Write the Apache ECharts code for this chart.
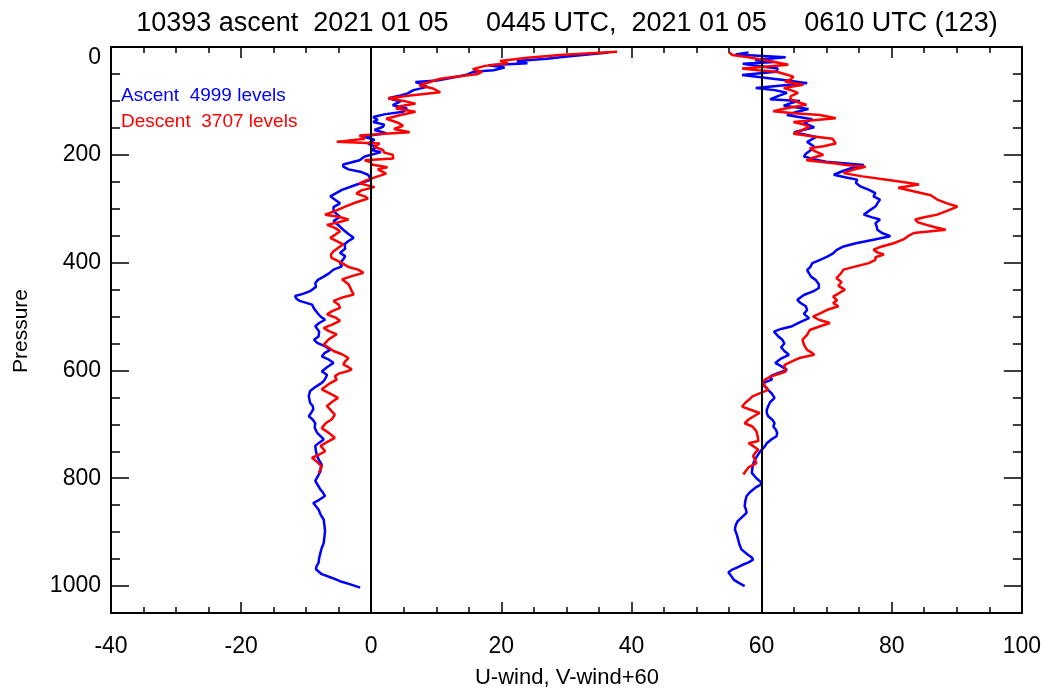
<!DOCTYPE html>
<html>
<head>
<meta charset="utf-8">
<title>10393 ascent</title>
<script src="https://cdn.jsdelivr.net/npm/echarts/dist/echarts.min.js"></script>
<style>
    html, body { margin: 0; padding: 0; background: #fff; }
    #chart { width: 1044px; height: 694px; }
</style>
</head>
<body>
<!--图表容器-->
<div id="chart"></div>
<script>
// 数据: [气压 hPa, 风速]
let ascentU = [
    [10, 36.5], [17, 30.5], [22, 27], [26, 22.4], [30, 24], [34, 18], [38, 20.5], [43, 18.8], [46, 15.7], [52, 14.5],
    [58, 12], [62, 10.1], [65, 6.8], [70, 8], [74, 8.6], [80, 6.5], [86, 5.6], [90, 4.5], [95, 2.6], [101, 4.5],
    [108, 3.3], [114, 5.5], [120, 4.9], [125, 2], [130, 0.3], [135, 1], [139, 0.3], [144, 2], [148, 1.8], [154, 0.5],
    [160, 2.3], [166, -1.3], [172, 0.5], [179, -0.5], [186, 0.8], [191, 0], [195, 1.5], [203, -1], [210, -1.8], [218, -4.3],
    [222, -4.3], [227, -3.5], [232, -1.5], [237, -0.5], [246, 0], [255, -2.2], [265, -4.5], [277, -6.3], [284, -5.5], [290, -4.8],
    [297, -5.8], [305, -5.8], [315, -4.8], [323, -5.8], [331, -5], [339, -4.3], [347, -3.5], [354, -2.7], [360, -3.5], [366, -4.1],
    [374, -4], [382, -4.8], [388, -4], [394, -4.3], [401, -4.8], [407, -4.5], [413, -5.8], [420, -6.5], [426, -7.3], [432, -8.2],
    [438, -8.6], [445, -8.5], [453, -9.4], [458, -10.5], [462, -11.7], [467, -11.5], [471, -11], [478, -9.1], [485, -8.8], [493, -8.3],
    [500, -7.8], [506, -7.1], [512, -8], [518, -8.6], [528, -8], [537, -8.1], [543, -8.8], [549, -8.3], [556, -7], [562, -6.3],
    [568, -7.2], [574, -7.6], [580, -6.5], [586, -5.8], [594, -6.8], [602, -7.6], [608, -6.8], [614, -7], [618, -7.2], [623, -7.6],
    [630, -8.5], [638, -9.4], [648, -9.6], [660, -9.4], [666, -9], [672, -8.9], [678, -9.2], [685, -9.6], [691, -9], [698, -8.6],
    [706, -8.7], [716, -8.3], [722, -7.8], [728, -7.3], [734, -8], [740, -8.6], [750, -8.5], [759, -8.3], [767, -8], [775, -7.6],
    [781, -7.8], [787, -7.8], [796, -8.2], [805, -8.6], [813, -8.2], [821, -7.8], [827, -7.4], [833, -7.1], [840, -8], [846, -8.9],
    [852, -8.5], [858, -8.1], [867, -7.8], [877, -7.3], [887, -7.2], [898, -7.1], [909, -7.2], [920, -7.3], [929, -7.6], [938, -7.8],
    [948, -8], [957, -8.1], [963, -8.4], [969, -8.5], [974, -8], [978, -7.6], [985, -6], [991, -4.8], [997, -3.2], [1003, -1.7]
]
let descentU = [
    [9, 37.8], [12, 33], [15, 29], [20, 24], [26, 19.8], [30, 21], [35, 17.5], [41, 15.6], [46, 17], [50, 16.4],
    [55, 13], [59, 10.6], [65, 9], [71, 7.4], [77, 9.5], [84, 10.6], [90, 6], [95, 2.6], [100, 5], [105, 6.8],
    [110, 4.5], [114, 3.8], [120, 6.8], [126, 4.5], [133, 2.3], [140, 4], [146, 4.9], [152, 3.5], [158, 5.9], [161, 2],
    [164, -1.8], [170, -1], [176, -5.3], [179, 1.3], [185, 0.5], [191, 1.8], [196, 2], [200, 3.3], [207, 3.4], [210, -1],
    [214, 0], [218, 0], [223, 2.5], [227, 1], [235, 2.3], [240, 1], [247, -0.7], [253, -1.8], [260, 0.5], [266, -1.5],
    [272, -2.3], [277, -1], [281, -0.5], [289, -2.5], [296, -4], [304, -5.5], [311, -7.1], [315, -5], [320, -3.5], [325, -5],
    [330, -6.8], [336, -5.5], [342, -4.8], [348, -5.5], [354, -6.3], [360, -5.3], [366, -4.3], [372, -5], [379, -5.8], [385, -6.2],
    [391, -6.1], [396, -5.3], [401, -4.5], [408, -3.5], [413, -2], [419, -1.2], [425, -3], [431, -4.5], [440, -3.5], [447, -3.2],
    [453, -3], [459, -2.7], [465, -4.5], [471, -5.8], [478, -5], [484, -4.8], [490, -6], [496, -6.8], [502, -5.5], [508, -4.8],
    [515, -6], [521, -7.3], [527, -6.5], [533, -5.3], [542, -6.5], [552, -7.3], [558, -6.5], [564, -5.8], [570, -4.5], [577, -3.5],
    [583, -4], [589, -4.3], [594, -3.5], [598, -3], [601, -3.5], [606, -5], [611, -5.6], [617, -5.3], [625, -6.5], [635, -7.6],
    [643, -6.3], [651, -5.1], [658, -6], [666, -6.8], [674, -6.2], [682, -5.6], [690, -6], [698, -7], [707, -7.6], [716, -6.5],
    [725, -5.6], [733, -6.8], [740, -7.8], [745, -7.4], [750, -7.1], [756, -8], [762, -9.1], [770, -8.3], [778, -7.6], [784, -7.8],
    [790, -8.1]
]
let ascentV = [
    [10, -2], [14, -4], [19, 3.7], [24, -1], [28, 2], [31, -2.9], [36, 0], [40, 2.5], [46, 2.2], [52, -3],
    [57, 0.5], [62, 4], [67, 7], [71, 3.5], [76, -0.9], [80, 2], [85, 3.9], [91, 2.5], [97, 1.3], [100, 5.9],
    [104, 4.5], [109, 3.4], [115, 7.2], [120, 5.5], [126, 3.9], [134, 7.8], [141, 6.5], [149, 8.1], [158, 5], [167, 8.4],
    [176, 7], [185, 8.1], [192, 7.5], [198, 6.8], [203, 6.5], [208, 8], [213, 9.9], [219, 15.7], [224, 14], [230, 12.5],
    [237, 11.1], [242, 13], [246, 14.7], [252, 14.5], [258, 15.1], [265, 16.5], [271, 17.5], [277, 17.2], [283, 18.2], [290, 17.8],
    [296, 17.5], [304, 16.5], [311, 15.7], [316, 17], [320, 18.2], [327, 17.5], [333, 17.7], [339, 17.8], [345, 18.5], [351, 19.8],
    [358, 17], [364, 14.5], [370, 12.6], [377, 11.5], [383, 11], [389, 10.1], [395, 9], [401, 7.8], [408, 7.5], [414, 7],
    [420, 7.3], [426, 7.6], [432, 8.3], [440, 8.8], [447, 8.8], [453, 8], [460, 6.5], [469, 5.5], [475, 6], [481, 6.8],
    [488, 7], [495, 6.5], [503, 7.3], [510, 6], [518, 4.7], [523, 3], [528, 1.9], [536, 2.5], [543, 3.2], [550, 3.5],
    [557, 3], [564, 3.5], [571, 4.2], [578, 3], [586, 2.1], [592, 3], [599, 3.9], [605, 2.5], [611, 1.3], [617, 1.6],
    [622, 0.5], [627, 0.3], [636, 1], [642, 1.5], [651, 2], [659, 1.3], [667, 1], [673, 0.8], [679, 0.8], [685, 1],
    [692, 1.7], [698, 2], [704, 1.8], [710, 2.2], [716, 2.4], [722, 2.3], [728, 1.5], [735, 0.8], [741, 0.5], [750, -0.2],
    [759, -0.7], [770, -1.2], [780, -1.4], [790, -1.5], [800, -0.8], [806, -0.2], [811, 0], [818, -1], [826, -1.8], [833, -2.3],
    [842, -2.5], [852, -2.6], [858, -2.4], [864, -2.3], [872, -3], [880, -3.7], [888, -4], [895, -4.1], [905, -3.8], [914, -3.6],
    [923, -3.4], [932, -3.1], [941, -2.2], [947, -1.5], [951, -1.3], [956, -2], [961, -3], [966, -3.8], [970, -4.6], [975, -5.1],
    [981, -4.7], [988, -4.3], [994, -3.5], [1000, -2.6]
]
let descentV = [
    [10, -5], [15, -4.5], [19, -2], [24, 0.3], [28, 2], [33, 4.1], [37, 0], [40, -3], [43, -0.5], [46, 2.3],
    [50, 3.5], [55, 4.9], [60, 4.5], [64, 3.6], [70, 6.4], [76, 3.4], [80, 4.5], [85, 5.6], [91, 4.5], [97, 4.4],
    [102, 5.5], [107, 6.9], [113, 4], [119, 1.8], [123, 5], [126, 9], [132, 11.4], [139, 4.9], [144, 6.5], [148, 7.4],
    [155, 6], [161, 4.9], [166, 8], [170, 10.9], [179, 11.4], [184, 9.5], [188, 7.4], [195, 8.5], [200, 9.5], [205, 8],
    [210, 6.9], [216, 11.4], [219, 13], [222, 16], [228, 14], [234, 12.6], [240, 15.5], [247, 19.8], [252, 22.5], [255, 24.2],
    [261, 21], [268, 23.5], [275, 26], [283, 27], [290, 28.5], [296, 30.1], [304, 28.5], [311, 27], [316, 25], [320, 23.6],
    [325, 24], [329, 25.1], [334, 26.5], [339, 28.3], [345, 23.4], [351, 22.5], [357, 21.8], [364, 20.3], [370, 18.5], [376, 17.2],
    [381, 17.8], [385, 18.8], [390, 17.5], [395, 17.5], [401, 16.5], [407, 14.5], [413, 12.6], [420, 12.2], [429, 11.5], [436, 12.3],
    [443, 11.8], [450, 12.8], [456, 12], [463, 11], [470, 11.6], [475, 11], [481, 11.8], [488, 10], [494, 9], [500, 7.9],
    [506, 8.8], [512, 10.5], [518, 9], [525, 7.4], [534, 7], [543, 6.3], [552, 6.5], [562, 7], [567, 7.7], [571, 8.1],
    [577, 5.8], [584, 4.5], [590, 3.5], [596, 3.6], [602, 3.7], [607, 2.5], [611, 1.5], [617, 0.5], [623, 0.2], [630, 0.6],
    [636, 1], [642, -0.2], [648, -1.4], [655, -2], [660, -2.5], [667, -3], [673, -1.7], [679, -0.3], [685, -1.2], [691, -2],
    [698, -2.6], [704, -1.4], [713, -0.8], [722, -0.6], [731, -0.5], [735, -2], [741, -1.2], [747, -0.5], [753, -1], [759, -1.3],
    [766, -1], [772, -0.8], [780, -2], [786, -2.4], [793, -2.8]
]
let vOffset = 60
let titleText = '10393 ascent  2021 01 05     0445 UTC,  2021 01 05     0610 UTC (123)'
let ascentLabel = 'Ascent  4999 levels'
let descentLabel = 'Descent  3707 levels'
let xName = 'U-wind, V-wind+60'
let yName = 'Pressure'

let font = 'Liberation Sans'
let black = '#000000'

// [风速, 气压] 给图表用
function toPoints (list, offset) {
    return list.map(item => [item[1] + offset, item[0]])
}

function lineSeries (name, data, color) {
    return {
        name: name,
        type: 'line',
        data: data,
        showSymbol: false,
        symbol: 'none',
        xAxisIndex: 0,
        yAxisIndex: 0,
        lineStyle: { color: color, width: 2.5 },
        animation: false
    }
}

// x轴 上下两条
function xAxis (position, showLabel) {
    return {
        type: 'value',
        position: position,
        min: -40,
        max: 100,
        interval: 20,
        axisLine: { show: true, onZero: false, lineStyle: { color: black, width: 2 } },
        axisTick: { show: true, inside: true, length: 11, lineStyle: { color: black, width: 1.5 } },
        minorTick: { show: true, splitNumber: 4, length: 6, lineStyle: { color: black, width: 1.5 } },
        axisLabel: { show: showLabel, margin: 22, fontSize: 23, color: black, fontFamily: font },
        splitLine: { show: false },
        minorSplitLine: { show: false }
    }
}

// y轴 大刻度和小刻度分开画
function yAxis (position, interval, tickLen, showLabel) {
    return {
        type: 'value',
        position: position,
        inverse: true,
        min: 0,
        max: 1050,
        interval: interval,
        axisLine: { show: true, onZero: false, lineStyle: { color: black, width: 2 } },
        axisTick: { show: true, inside: true, length: tickLen, lineStyle: { color: black, width: 1.5 } },
        axisLabel: {
            show: showLabel,
            showMaxLabel: false,
            margin: 10,
            fontSize: 23,
            color: black,
            fontFamily: font,
            formatter: function (v) {
                return v === 0 ? '{z|0}' : String(v)
            },
            rich: {
                z: { fontSize: 23, color: black, fontFamily: font, padding: [22, 0, 0, 0] }
            }
        },
        splitLine: { show: false }
    }
}

let uAsc = lineSeries('ascentU', toPoints(ascentU, 0), '#0000ff')
// 0 和 60 的竖线
uAsc.markLine = {
    silent: true,
    symbol: 'none',
    animation: false,
    label: { show: false },
    lineStyle: { color: black, width: 2, type: 'solid' },
    data: [{ xAxis: 0 }, { xAxis: vOffset }]
}

let myChart = echarts.init(document.getElementById('chart'))
myChart.setOption({
    animation: false,
    grid: { left: 111, right: 21, top: 47, bottom: 81, containLabel: false },
    xAxis: [xAxis('bottom', true), xAxis('top', false)],
    yAxis: [
        yAxis('left', 200, 18, true),
        yAxis('left', 50, 9, false),
        yAxis('right', 200, 18, false),
        yAxis('right', 50, 9, false)
    ],
    series: [
        uAsc,
        lineSeries('ascentV', toPoints(ascentV, vOffset), '#0000ff'),
        lineSeries('descentU', toPoints(descentU, 0), '#ff0000'),
        lineSeries('descentV', toPoints(descentV, vOffset), '#ff0000')
    ],
    graphic: [
        {
            type: 'text', x: 567, y: 24,
            style: { text: titleText, font: '27px "' + font + '"', fill: black, textAlign: 'center', textVerticalAlign: 'middle', align: 'center', verticalAlign: 'middle' }
        },
        {
            type: 'text', x: 121, y: 96,
            style: { text: ascentLabel, font: '19px "' + font + '"', fill: '#0000ff', textAlign: 'left', textVerticalAlign: 'middle', align: 'left', verticalAlign: 'middle' }
        },
        {
            type: 'text', x: 121, y: 122,
            style: { text: descentLabel, font: '19px "' + font + '"', fill: '#ff0000', textAlign: 'left', textVerticalAlign: 'middle', align: 'left', verticalAlign: 'middle' }
        },
        {
            type: 'text', x: 567, y: 678,
            style: { text: xName, font: '22px "' + font + '"', fill: black, textAlign: 'center', textVerticalAlign: 'middle', align: 'center', verticalAlign: 'middle' }
        },
        {
            type: 'text', x: 21, y: 331, rotation: Math.PI / 2,
            style: { text: yName, font: '21px "' + font + '"', fill: black, textAlign: 'center', textVerticalAlign: 'middle', align: 'center', verticalAlign: 'middle' }
        }
    ]
})
window.addEventListener('resize', function () {
    myChart.resize()
})
</script>
</body>
</html>
